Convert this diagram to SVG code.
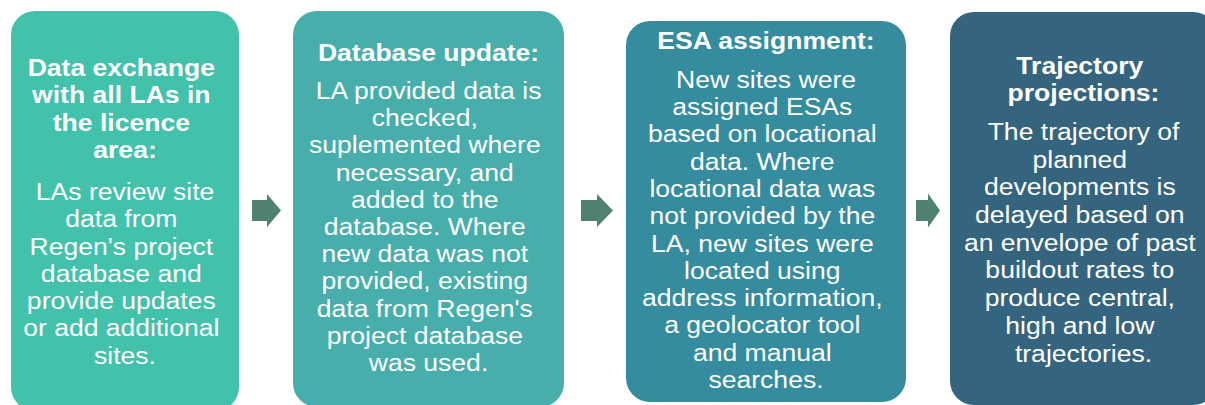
<svg xmlns="http://www.w3.org/2000/svg" width="1205" height="405" viewBox="0 0 1205 405">
  <style>
    .title { font-family: "Liberation Sans", Arial, sans-serif; font-weight: bold; font-size: 23.5px; fill: #ffffff; text-anchor: middle; }
    .body { font-family: "Liberation Sans", Arial, sans-serif; font-size: 23.5px; fill: #ffffff; text-anchor: middle; }
    .arrow { fill: #4F8370; }
  </style>
  <rect width="1205" height="405" fill="#ffffff"/>

  <!-- Step 1 -->
  <g id="step-data-exchange">
    <rect x="11" y="11" width="228" height="400" rx="24" fill="#42C1AB"/>
    <g transform="translate(125 0) scale(1.13 1)">
      <text class="title">
        <tspan x="0" y="76">Data exchange</tspan>
        <tspan x="0" y="103.4">with all LAs in</tspan>
        <tspan x="0" y="130.8">the licence</tspan>
        <tspan x="0" y="158.2">area:</tspan>
      </text>
      <text class="body">
        <tspan x="3.3" y="200">LAs review site</tspan>
        <tspan x="0" y="227.3">data from</tspan>
        <tspan x="0" y="254.6">Regen's project</tspan>
        <tspan x="0" y="281.9">database and</tspan>
        <tspan x="0" y="309.2">provide updates</tspan>
        <tspan x="0" y="336.5">or add additional</tspan>
        <tspan x="0" y="363.8">sites.</tspan>
      </text>
    </g>
  </g>

  <!-- Step 2 -->
  <g id="step-database-update">
    <rect x="293" y="11" width="271" height="396" rx="24" fill="#47AEAB"/>
    <g transform="translate(428.5 0) scale(1.13 1)">
      <text class="title">
        <tspan x="0" y="61">Database update:</tspan>
      </text>
      <text class="body">
        <tspan x="3.3" y="99">LA provided data is</tspan>
        <tspan x="0" y="126.2">checked,</tspan>
        <tspan x="0" y="153.4">suplemented where</tspan>
        <tspan x="0" y="180.6">necessary, and</tspan>
        <tspan x="0" y="207.8">added to the</tspan>
        <tspan x="0" y="235">database. Where</tspan>
        <tspan x="0" y="262.2">new data was not</tspan>
        <tspan x="0" y="289.4">provided, existing</tspan>
        <tspan x="0" y="316.6">data from Regen's</tspan>
        <tspan x="0" y="343.8">project database</tspan>
        <tspan x="0" y="371">was used.</tspan>
      </text>
    </g>
  </g>

  <!-- Step 3 -->
  <g id="step-esa-assignment">
    <rect x="626" y="21" width="280" height="381" rx="24" fill="#348C9E"/>
    <g transform="translate(766 0) scale(1.13 1)">
      <text class="title">
        <tspan x="0" y="49">ESA assignment:</tspan>
      </text>
      <text class="body">
        <tspan x="3.3" y="88">New sites were</tspan>
        <tspan x="0" y="115.3">assigned ESAs</tspan>
        <tspan x="0" y="142.5">based on locational</tspan>
        <tspan x="0" y="169.8">data. Where</tspan>
        <tspan x="0" y="197.1">locational data was</tspan>
        <tspan x="0" y="224.4">not provided by the</tspan>
        <tspan x="0" y="251.6">LA, new sites were</tspan>
        <tspan x="0" y="278.9">located using</tspan>
        <tspan x="0" y="306.2">address information,</tspan>
        <tspan x="0" y="333.5">a geolocator tool</tspan>
        <tspan x="0" y="360.7">and manual</tspan>
        <tspan x="0" y="388">searches.</tspan>
      </text>
    </g>
  </g>

  <!-- Step 4 -->
  <g id="step-trajectory-projections">
    <rect x="950" y="12" width="267" height="393" rx="24" fill="#35657E"/>
    <g transform="translate(1083.5 0) scale(1.13 1)">
      <text class="title">
        <tspan x="0" y="74">Trajectory</tspan>
        <tspan x="0" y="101">projections:</tspan>
      </text>
      <text class="body">
        <tspan x="3.3" y="140">The trajectory of</tspan>
        <tspan x="0" y="167.7">planned</tspan>
        <tspan x="0" y="195.4">developments is</tspan>
        <tspan x="0" y="223.1">delayed based on</tspan>
        <tspan x="0" y="250.8">an envelope of past</tspan>
        <tspan x="0" y="278.5">buildout rates to</tspan>
        <tspan x="0" y="306.2">produce central,</tspan>
        <tspan x="0" y="333.9">high and low</tspan>
        <tspan x="0" y="361.6">trajectories.</tspan>
      </text>
    </g>
  </g>

  <!-- Block arrows between steps -->
  <g id="connectors">
    <polygon class="arrow" points="252,200 267,200 267,194 281,210.5 267,227 267,221 252,221"/>
    <polygon class="arrow" points="581,200 597,200 597,194 613,210.5 597,227 597,221 581,221"/>
    <polygon class="arrow" points="916,200 928,200 928,193.5 940,210.5 928,227.5 928,221 916,221"/>
  </g>
</svg>
